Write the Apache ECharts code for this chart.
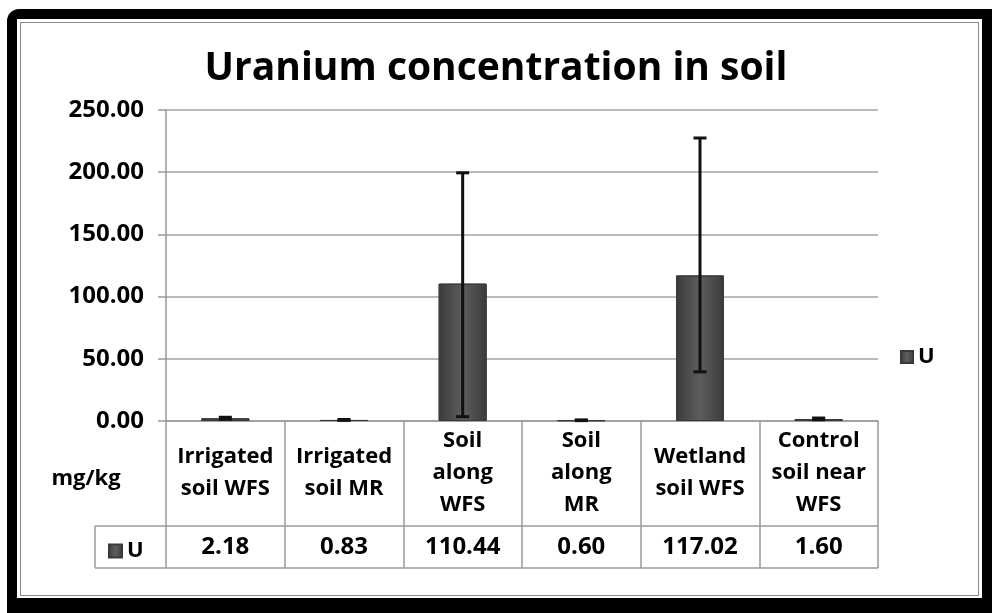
<!DOCTYPE html>
<html>
<head>
<meta charset="utf-8">
<script src="https://cdn.jsdelivr.net/npm/echarts@6/dist/echarts.min.js"></script>
<style>
  html, body { margin: 0; padding: 0; background: #fff; width: 992px; height: 613px; overflow: hidden; }
  #frame { position: absolute; left: 7px; top: 9px; width: 1000px; height: 620px; background: #000; border-radius: 12px; }
  #inner { position: absolute; left: 17px; top: 19px; width: 965px; height: 579px; background: #fff; }
  #inner2 { position: absolute; left: 20px; top: 22px; width: 957px; height: 572px; border: 1px solid #8a8a8a; }
  #chart { position: absolute; left: 0; top: 0; width: 992px; height: 613px; }
</style>
</head>
<body>
<div id="frame"></div>
<div id="inner"></div>
<div id="inner2"></div>
<div id="chart"></div>
<script>
// ---- data ----
const categories = [
  "Irrigated\nsoil WFS",
  "Irrigated\nsoil MR",
  "Soil\nalong\nWFS",
  "Soil\nalong\nMR",
  "Wetland\nsoil WFS",
  "Control\nsoil near\nWFS"
];
const seriesName = "U";
const values = [2.18, 0.83, 110.44, 0.60, 117.02, 1.60];
const errLow  = [1.5, 0.5, 3.5, 0.3, 39.5, 1.0];
const errHigh = [3.0, 1.2, 199.5, 0.9, 227.5, 2.4];
const yTicks = { min: 0, max: 250, interval: 50 };
const unitLabel = "mg/kg";
const titleText = "Uranium concentration in soil";

const FONT = "Open Sans";
const FS = 22;
const FSN = 24;
const barGrad = new echarts.graphic.LinearGradient(0, 0, 1, 0, [
  { offset: 0, color: '#3a3a3a' },
  { offset: 0.5, color: '#5e5e5e' },
  { offset: 1, color: '#3a3a3a' }
]);

const chart = echarts.init(document.getElementById('chart'), null, { renderer: 'canvas' });

const errData = categories.map((c, i) => [i, errLow[i], errHigh[i]]);

const option = {
  backgroundColor: 'transparent',
  animation: false,
  title: {
    text: titleText,
    left: 'center',
    top: 44,
    textStyle: { fontFamily: FONT, fontWeight: 'bold', fontSize: 39, color: '#000' }
  },
  legend: [
    {
      data: [seriesName],
      left: 895, top: 341,
      itemWidth: 12, itemHeight: 12, itemGap: 4,
      icon: 'rect',
      textStyle: { fontFamily: FONT, fontWeight: 'bold', fontSize: FS, color: '#000' }
    },
    {
      data: [seriesName],
      left: 103, top: 535,
      itemWidth: 13, itemHeight: 13, itemGap: 4,
      icon: 'rect',
      selectedMode: false,
      textStyle: { fontFamily: FONT, fontWeight: 'bold', fontSize: FS, color: '#000' }
    }
  ],
  grid: { left: 166, right: 114, top: 110, bottom: 192, containLabel: false },
  xAxis: [
    {
      type: 'category',
      data: categories,
      position: 'bottom',
      axisLine: { show: true, lineStyle: { color: '#999', width: 1.5 } },
      axisTick: { show: true, alignWithLabel: false, length: 147, lineStyle: { color: '#9a9a9a', width: 1.5 } },
      axisLabel: {
        interval: 0, margin: 52, verticalAlign: 'middle', lineHeight: 32,
        fontFamily: FONT, fontWeight: 'bold', fontSize: FS, color: '#000'
      },
      splitLine: { show: false }
    },
    {
      type: 'category',
      data: categories,
      position: 'bottom',
      axisLine: { show: false },
      axisTick: { show: false },
      axisLabel: {
        interval: 0, margin: 126, verticalAlign: 'middle',
        fontFamily: FONT, fontWeight: 'bold', fontSize: FSN, color: '#000',
        formatter: (v, i) => values[i].toFixed(2)
      },
      splitLine: { show: false }
    }
  ],
  yAxis: {
    type: 'value',
    min: yTicks.min, max: yTicks.max, interval: yTicks.interval,
    axisLine: { show: true, lineStyle: { color: '#999', width: 1.5 } },
    axisTick: { show: true, length: 8, lineStyle: { color: '#999', width: 1.5 } },
    axisLabel: {
      margin: 22,
      fontFamily: FONT, fontWeight: 'bold', fontSize: FSN, color: '#000',
      formatter: v => v.toFixed(2)
    },
    splitLine: { show: true, lineStyle: { color: '#a4a4a4', width: 1.5 } }
  },
  series: [
    {
      name: seriesName,
      type: 'bar',
      data: values,
      barWidth: 48,
      itemStyle: { color: barGrad, borderColor: '#3a3a3a', borderWidth: 1 },
      z: 2
    },
    {
      name: 'err',
      type: 'custom',
      data: errData,
      z: 5,
      renderItem: function (params, api) {
        const x = api.value(0);
        const lo = api.coord([x, api.value(1)]);
        const hi = api.coord([x, api.value(2)]);
        const half = 6.5;
        const style = { stroke: '#111', lineWidth: 3 };
        return {
          type: 'group',
          children: [
            { type: 'line', shape: { x1: lo[0], y1: lo[1], x2: hi[0], y2: hi[1] }, style: style },
            { type: 'line', shape: { x1: hi[0] - half, y1: hi[1], x2: hi[0] + half, y2: hi[1] }, style: style },
            { type: 'line', shape: { x1: lo[0] - half, y1: lo[1], x2: lo[0] + half, y2: lo[1] }, style: style }
          ]
        };
      }
    }
  ]
};

chart.setOption(option);

// table decorations (horizontal rules and legend key cell) placed from the axis scale
const yRow = 526, yBottom = 568;
const c0 = chart.convertToPixel({ xAxisIndex: 0 }, categories[0]);
const c1 = chart.convertToPixel({ xAxisIndex: 0 }, categories[1]);
const step = c1 - c0;
const xLeft = c0 - step / 2;
const xRight = xLeft + step * categories.length;
const lineStyle = { stroke: '#9a9a9a', lineWidth: 1.5 };
chart.setOption({
  graphic: [
    { type: 'line', shape: { x1: 95, y1: yRow, x2: xRight, y2: yRow }, style: lineStyle, silent: true },
    { type: 'line', shape: { x1: 95, y1: yBottom, x2: xRight, y2: yBottom }, style: lineStyle, silent: true },
    { type: 'line', shape: { x1: 95, y1: yRow, x2: 95, y2: yBottom }, style: lineStyle, silent: true },
    { type: 'text', x: 86, y: 479, style: { text: unitLabel, fontFamily: FONT, fontWeight: 'bold', fontSize: FS, fill: '#000', align: 'center', verticalAlign: 'middle' }, silent: true }
  ]
});
</script>
</body>
</html>
